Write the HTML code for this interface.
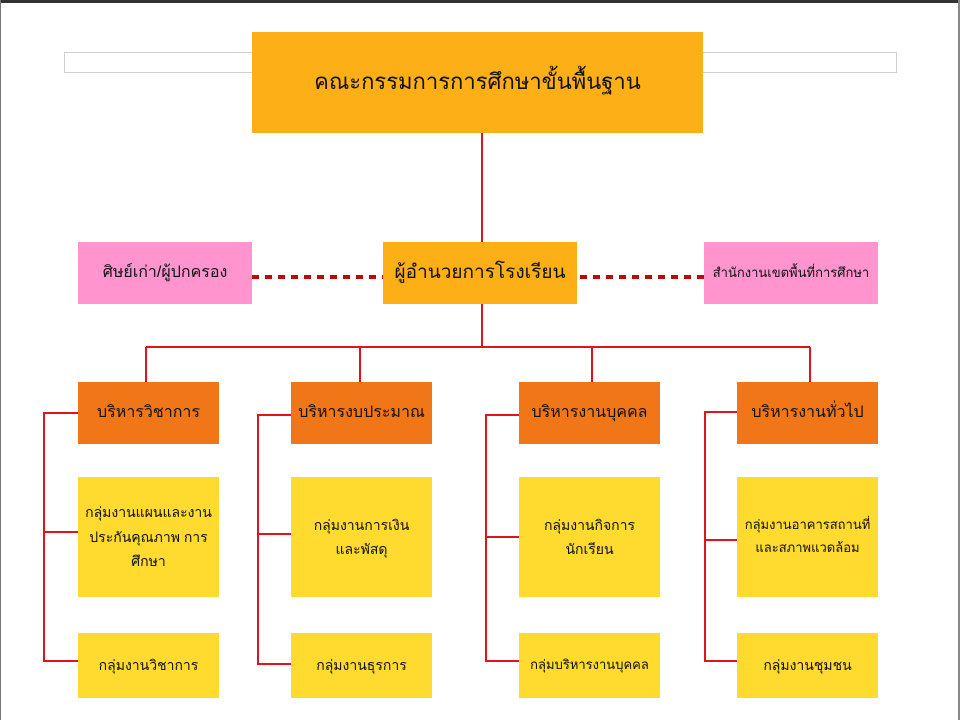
<!DOCTYPE html>
<html><head><meta charset="utf-8">
<style>
html,body{margin:0;padding:0;}
body{width:960px;height:720px;position:relative;background:#fff;overflow:hidden;font-family:"Liberation Sans","Noto Sans CJK SC",sans-serif;}
.b{position:absolute;display:flex;align-items:center;justify-content:center;text-align:center;color:#111;box-sizing:border-box;line-height:1.75;white-space:nowrap;}
.o{background:#F07618;font-size:16px;}
.y{background:#FFDA2F;font-size:14px;}
.p{background:#FF94CE;}
</style></head><body>
<div style="position:absolute;left:0;top:0;width:960px;height:3px;background:#333"></div>
<div style="position:absolute;left:0;top:0;width:1px;height:720px;background:#777"></div>
<div style="position:absolute;right:0;top:0;width:2px;height:720px;background:#888"></div>
<div style="position:absolute;left:64px;top:52px;width:833px;height:21px;border:1px solid #d0d0d0;box-sizing:border-box"></div>
<svg width="960" height="720" style="position:absolute;left:0;top:0">
<g stroke="#E0141E" stroke-width="2" fill="none">
<path d="M482 133V242M482 304V347M146 347H810M146 347V382M360 347V382M592 347V382M810 347V382"/>
<path d="M78 413H44V661H78M44 532H78"/>
<path d="M291 415H258V664H291M258 534H291"/>
<path d="M519 415H486V661H519M486 537H519"/>
<path d="M737 412H705V661H737M705 540H737"/>
</g>
<g stroke="#B80A0A" stroke-width="4" stroke-dasharray="7,6" fill="none">
<path d="M252 277H383M580 277H704"/>
</g>
</svg>
<div class="b" style="left:252px;top:32px;width:451px;height:101px;background:#FDAF17;font-size:22px">คณะกรรมการการศึกษาขั้นพื้นฐาน</div>
<div class="b p" style="left:78px;top:242px;width:174px;height:62px;font-size:16px">ศิษย์เก่า/ผู้ปกครอง</div>
<div class="b" style="left:383px;top:242px;width:194px;height:62px;background:#FDAF17;font-size:19px">ผู้อำนวยการโรงเรียน</div>
<div class="b p" style="left:704px;top:242px;width:174px;height:62px;font-size:13px">สำนักงานเขตพื้นที่การศึกษา</div>

<div class="b o" style="left:78px;top:382px;width:141px;height:62px">บริหารวิชาการ</div>
<div class="b o" style="left:291px;top:382px;width:141px;height:62px">บริหารงบประมาณ</div>
<div class="b o" style="left:519px;top:382px;width:141px;height:62px">บริหารงานบุคคล</div>
<div class="b o" style="left:737px;top:382px;width:141px;height:62px">บริหารงานทั่วไป</div>

<div class="b y" style="left:78px;top:477px;width:141px;height:120px">กลุ่มงานแผนและงาน<br>ประกันคุณภาพ การ<br>ศึกษา</div>
<div class="b y" style="left:291px;top:477px;width:141px;height:120px">กลุ่มงานการเงิน<br>และพัสดุ</div>
<div class="b y" style="left:519px;top:477px;width:141px;height:120px">กลุ่มงานกิจการ<br>นักเรียน</div>
<div class="b y" style="left:737px;top:477px;width:141px;height:120px;font-size:13px">กลุ่มงานอาคารสถานที่<br>และสภาพแวดล้อม</div>

<div class="b y" style="left:78px;top:633px;width:141px;height:65px">กลุ่มงานวิชาการ</div>
<div class="b y" style="left:291px;top:633px;width:141px;height:65px">กลุ่มงานธุรการ</div>
<div class="b y" style="left:519px;top:633px;width:141px;height:65px;font-size:13px">กลุ่มบริหารงานบุคคล</div>
<div class="b y" style="left:737px;top:633px;width:141px;height:65px">กลุ่มงานชุมชน</div>
</body></html>
